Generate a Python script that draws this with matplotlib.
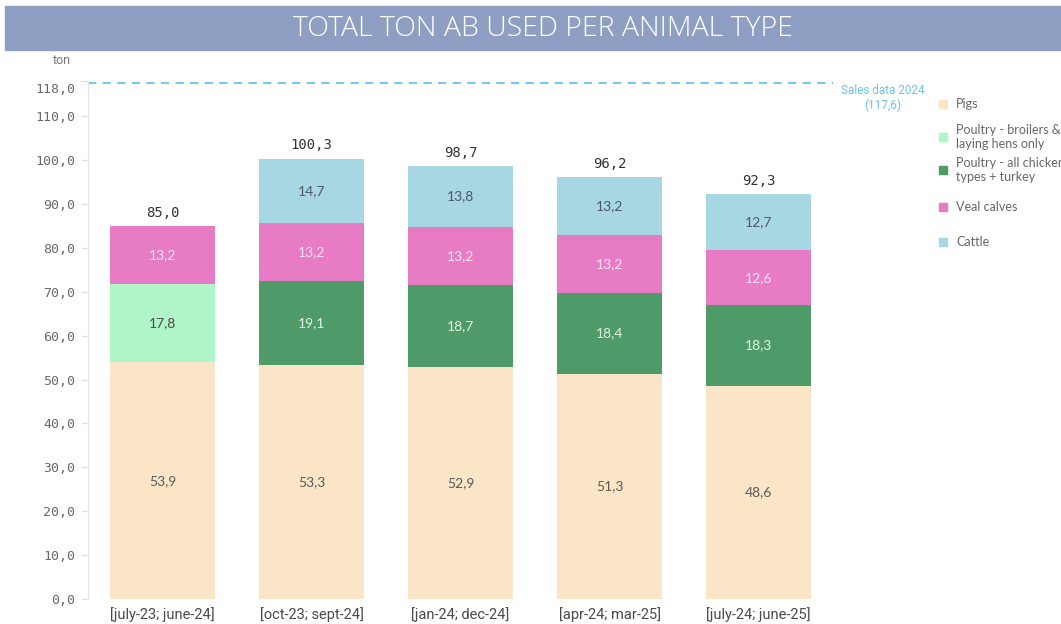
import matplotlib
matplotlib.use("Agg")
import matplotlib.pyplot as plt
import matplotlib.transforms as mtransforms
from matplotlib.patches import Rectangle

periods = ["[july-23; june-24]", "[oct-23; sept-24]", "[jan-24; dec-24]",
           "[apr-24; mar-25]", "[july-24; june-25]"]
pigs = [53.9, 53.3, 52.9, 51.3, 48.6]
poultry_broilers = [17.8, 0, 0, 0, 0]
poultry_all = [0, 19.1, 18.7, 18.4, 18.3]
veal = [13.2, 13.2, 13.2, 13.2, 12.6]
cattle = [0, 14.7, 13.8, 13.2, 12.7]
totals = [85.0, 100.3, 98.7, 96.2, 92.3]
sales_2024 = 117.6
yticks = [0, 10, 20, 30, 40, 50, 60, 70, 80, 90, 100, 110, 118]

series = [
    ("Pigs", pigs, "#fae5c6", "#5a5a5a"),
    ("Poultry - broilers &\nlaying hens only", poultry_broilers, "#aff5c8", "#4a4a4a"),
    ("Poultry - all chicken\ntypes + turkey", poultry_all, "#4e9a68", "#e4f4e6"),
    ("Veal calves", veal, "#e87cc4", "#fbe3f2"),
    ("Cattle", cattle, "#a7d7e3", "#4d5a66"),
]

def fmt(v):
    return f"{v:.1f}".replace(".", ",")

W, H = 1061, 624
fig = plt.figure(figsize=(W / 100, H / 100), dpi=100)

# title banner
fig.patches.append(Rectangle((5 / W, 1 - 50 / H), 1 - 5 / W, 44 / H,
                             transform=fig.transFigure, color="#8f9fc3", zorder=0))
fig.text(543 / W, 1 - 29 / H, "TOTAL TON AB USED PER ANIMAL TYPE", color="white",
         fontsize=20.5, family="Open Sans", fontweight="light",
         ha="center", va="center", fontstretch="normal")

ax = fig.add_axes([88 / W, (H - 599) / H, (833 - 88) / W, (599 - 81) / H])
x = list(range(len(periods)))
bottom = [0.0] * len(periods)
for name, vals, col, tcol in series:
    ax.bar(x, vals, width=0.7, bottom=bottom, color=col, label=name, zorder=2)
    for i, v in enumerate(vals):
        if v > 0:
            ax.text(x[i], bottom[i] + v / 2, fmt(v), ha="center", va="center",
                    color=tcol, fontsize=10, family="Lato", zorder=3)
    bottom = [b + v for b, v in zip(bottom, vals)]

for i, t in enumerate(totals):
    ax.text(x[i], bottom[i] + 1.5, fmt(t), ha="center", va="bottom",
            color="#333333", fontsize=10, family="DejaVu Sans Mono")

ax.axhline(sales_2024, color="#7cc6ee", linestyle=(0, (4, 3)), linewidth=1.5, zorder=1)
fig.text(883 / W, 1 - 91 / H, "Sales data 2024", color="#6fc0ea", fontsize=8.5,
         family="Roboto", ha="center", va="center")
fig.text(883 / W, 1 - 105 / H, "(117,6)", color="#6fc0ea", fontsize=8.5,
         family="Roboto", ha="center", va="center")

ax.set_xlim(-0.5, 4.5)
ax.set_ylim(0, 118)
ax.set_yticks(yticks)
ax.set_yticklabels([fmt(v) for v in yticks], family="DejaVu Sans Mono",
                   fontsize=9.5, color="#6a6a6a")
ax.set_xticks(x)
ax.set_xticklabels(periods, family="Roboto", fontsize=10.5, color="#4a4a4a")
ax.tick_params(axis="x", length=0, pad=6)
ax.tick_params(axis="y", length=5, color="#dddddd", pad=4)
for s in ["top", "right", "bottom"]:
    ax.spines[s].set_visible(False)
ax.spines["left"].set_color("#e3e3e3")
# shift top tick label down slightly
lab = ax.get_yticklabels()[-1]
lab.set_transform(lab.get_transform() + mtransforms.ScaledTranslation(0, -7 / 100, fig.dpi_scale_trans))

fig.text(62 / W, 1 - 60 / H, "ton", color="#777777", fontsize=9, family="Roboto",
         ha="center", va="center")

# legend
leg_y = [104, 137, 170, 207, 242]
for (name, vals, col, tcol), yy in zip(series, leg_y):
    fig.patches.append(Rectangle((939 / W, 1 - (yy + 4) / H), 8 / W, 8 / H,
                                 transform=fig.transFigure, color=col))
    fig.text(956 / W, 1 - yy / H, name, color="#666666", fontsize=9, family="Lato",
             ha="left", va="center", linespacing=1.15)

fig.savefig("out.png", dpi=100)
